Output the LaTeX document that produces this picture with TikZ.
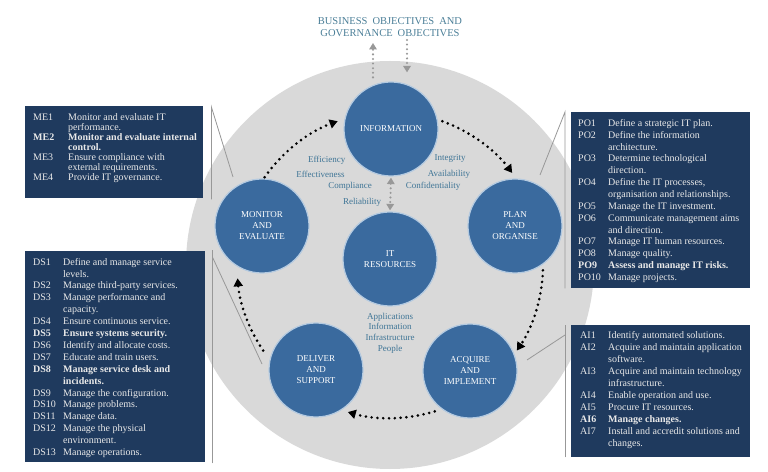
\documentclass[tikz,border=0pt]{standalone}
\usepackage{fontspec}
\setmainfont{Liberation Serif}
\usetikzlibrary{arrows.meta,calc}

\definecolor{disc}{HTML}{D9D9D9}
\definecolor{phase}{HTML}{3A6A9E}
\definecolor{phaseedge}{HTML}{B4CAE0}
\definecolor{panel}{HTML}{1F3A5E}
\definecolor{paneltext}{HTML}{E9E9E9}
\definecolor{criteria}{HTML}{3F7596}
\definecolor{headline}{HTML}{4B7F98}
\definecolor{guide}{HTML}{989898}

\newcommand{\wsp}{\hspace{5pt}}

\tikzset{
  phasenode/.style={circle, fill=phase, draw=phaseedge, line width=1.2pt,
    minimum size=94pt, inner sep=0pt, align=center, text=white,
    font=\fontsize{9}{11}\selectfont},
  panelbox/.style={rectangle, fill=panel, draw=none, inner sep=0pt, anchor=north west},
  paneltxt/.style={anchor=north west, inner sep=0pt, text=paneltext},
  crit/.style={text=criteria, font=\fontsize{9}{10.7}\selectfont, inner sep=0pt, align=center},
  flow/.style={line width=2.9pt, dash pattern=on 0pt off 5.8pt, line cap=round,
    -{Triangle[length=8pt,width=9pt]}},
  gflow/.style={draw=guide, line width=2.3pt, dash pattern=on 0pt off 4.6pt, line cap=round},
  gone/.style={-{Triangle[length=6.5pt,width=7.5pt,fill=guide,color=guide]}},
  gtwo/.style={{Triangle[length=6.5pt,width=7.5pt,fill=guide,color=guide]}-{Triangle[length=6.5pt,width=7.5pt,fill=guide,color=guide]}},
  callout/.style={draw=guide, line width=0.8pt},
}

\begin{document}
\begin{tikzpicture}[x=1pt,y=1pt]
\useasboundingbox (0,0) rectangle (768,471);
\fill[white] (0,0) rectangle (768,471);

% backdrop disc
\coordinate (hub) at (390,206);
\fill[disc] (hub) circle[radius=204];

% heading
\node[text=headline, align=center, inner sep=0pt,
      font=\fontsize{10.5}{12}\selectfont] (goals) at (390,444)
  {BUSINESS\wsp OBJECTIVES\wsp AND\\GOVERNANCE\wsp OBJECTIVES};

% the five domains and the resources
\node[phasenode] (info) at (391,342) {INFORMATION};
\node[phasenode] (plan) at (515,245) {PLAN\\AND\\ORGANISE};
\node[phasenode] (acq)  at (470,100) {ACQUIRE\\AND\\IMPLEMENT};
\node[phasenode] (dlv)  at (316,101) {DELIVER\\AND\\SUPPORT};
\node[phasenode] (mon)  at (262,245) {MONITOR\\AND\\EVALUATE};
\node[phasenode] (it)   at (390,212) {IT\\RESOURCES};

% information criteria and resources
\node[crit] (eff1) at (326.7,310.3) {Efficiency};
\node[crit] (eff2) at (320.5,297) {Effectiveness};
\node[crit] (comp) at (350,285) {Compliance};
\node[crit] (rel)  at (362,269) {Reliability};
\node[crit] (integ) at (450,313) {Integrity};
\node[crit] (avail) at (449,297) {Availability};
\node[crit] (conf) at (433,284.3) {Confidentiality};
\node[crit] (res) at (390,138) {Applications\\Information\\Infrastructure\\People};

% objectives in and out of the information domain
\coordinate (goalup) at (373,428);
\coordinate (goaldown) at (407,431);
\path (info.north -| goalup) coordinate (upbase);
\path (info.north -| goaldown) coordinate (downbase);
\draw[gflow, gone] ([yshift=4pt]upbase) -- (goalup);
\draw[gflow, gone] (goaldown) -- ([yshift=9pt]downbase);
\draw[gflow, gtwo] ([yshift=-1pt]info.south) -- ([yshift=1pt]it.north);

% management cycle
\path (hub) ++(145:153) coordinate (f1);
\path (hub) ++(70:153)  coordinate (f2);
\path (hub) ++(-2:153)  coordinate (f3);
\path (hub) ++(-73:153) coordinate (f4);
\path (hub) ++(214:153) coordinate (f5);
\draw[flow] (f1) arc[start angle=145, end angle=110, radius=153];
\draw[flow] (f2) arc[start angle=70, end angle=37, radius=153];
\draw[flow] (f3) arc[start angle=-2, end angle=-34, radius=153];
\draw[flow] (f4) arc[start angle=-73, end angle=-106, radius=153];
\draw[flow] (f5) arc[start angle=214, end angle=185, radius=153];

% process panels
\node[panelbox, minimum width=178pt, minimum height=92pt] (me) at (25,365) {};
\node[panelbox, minimum width=180pt, minimum height=211pt] (ds) at (25,220) {};
\node[panelbox, minimum width=179pt, minimum height=176pt] (po) at (571,359) {};
\node[panelbox, minimum width=179pt, minimum height=132pt] (ai) at (571,146) {};

\node[paneltxt, font=\fontsize{10}{10}\selectfont] (metxt) at (33,358.1) {%
\begin{tabular}{@{}p{35pt}@{}l@{}}
ME1 & Monitor and evaluate IT\\
 & performance.\\
\textbf{ME2} & \textbf{Monitor and evaluate internal}\\
 & \textbf{control.}\\
ME3 & Ensure compliance with\\
 & external requirements.\\
ME4 & Provide IT governance.
\end{tabular}};

\node[paneltxt, font=\fontsize{10}{11.9}\selectfont] (dstxt) at (33,214.4) {%
\begin{tabular}{@{}p{30pt}@{}l@{}}
DS1 & Define and manage service\\
 & levels.\\
DS2 & Manage third-party services.\\
DS3 & Manage performance and\\
 & capacity.\\
DS4 & Ensure continuous service.\\
\textbf{DS5} & \textbf{Ensure systems security.}\\
DS6 & Identify and allocate costs.\\
DS7 & Educate and train users.\\
\textbf{DS8} & \textbf{Manage service desk and}\\
 & \textbf{incidents.}\\
DS9 & Manage the configuration.\\
DS10 & Manage problems.\\
DS11 & Manage data.\\
DS12 & Manage the physical\\
 & environment.\\
DS13 & Manage operations.
\end{tabular}};

\node[paneltxt, font=\fontsize{10}{11.85}\selectfont] (potxt) at (578,353.1) {%
\begin{tabular}{@{}p{30pt}@{}l@{}}
PO1 & Define a strategic IT plan.\\
PO2 & Define the information\\
 & architecture.\\
PO3 & Determine technological\\
 & direction.\\
PO4 & Define the IT processes,\\
 & organisation and relationships.\\
PO5 & Manage the IT investment.\\
PO6 & Communicate management aims\\
 & and direction.\\
PO7 & Manage IT human resources.\\
PO8 & Manage quality.\\
\textbf{PO9} & \textbf{Assess and manage IT risks.}\\
PO10 & Manage projects.
\end{tabular}};

\node[paneltxt, font=\fontsize{10}{12}\selectfont] (aitxt) at (580,141.1) {%
\begin{tabular}{@{}p{28pt}@{}l@{}}
AI1 & Identify automated solutions.\\
AI2 & Acquire and maintain application\\
 & software.\\
AI3 & Acquire and maintain technology\\
 & infrastructure.\\
AI4 & Enable operation and use.\\
AI5 & Procure IT resources.\\
\textbf{AI6} & \textbf{Manage changes.}\\
AI7 & Install and accredit solutions and\\
 & changes.
\end{tabular}};

% callout leaders from panels towards their domains
\coordinate (metip) at (233,294);
\coordinate (dstip) at (262,107);
\coordinate (potip) at (540,296);
\coordinate (aitip) at (527,111);
\draw[callout] ([xshift=8pt,yshift=-1pt]me.south east) -- ([xshift=8pt,yshift=-1pt]me.north east) -- (metip);
\draw[callout] ([xshift=7pt,yshift=-1pt]ds.south east) -- ([xshift=7pt,yshift=1pt]ds.north east);
\draw[callout] ([xshift=7pt,yshift=-6pt]ds.north east) -- (dstip);
\draw[callout] ([xshift=-6pt]po.south west) -- ([xshift=-6pt]po.north west) -- (potip);
\draw[callout] ([xshift=-6pt]ai.south west) -- ([xshift=-6pt]ai.north west);
\draw[callout] ([xshift=-6pt,yshift=-10pt]ai.north west) -- (aitip);
\end{tikzpicture}
\end{document}
